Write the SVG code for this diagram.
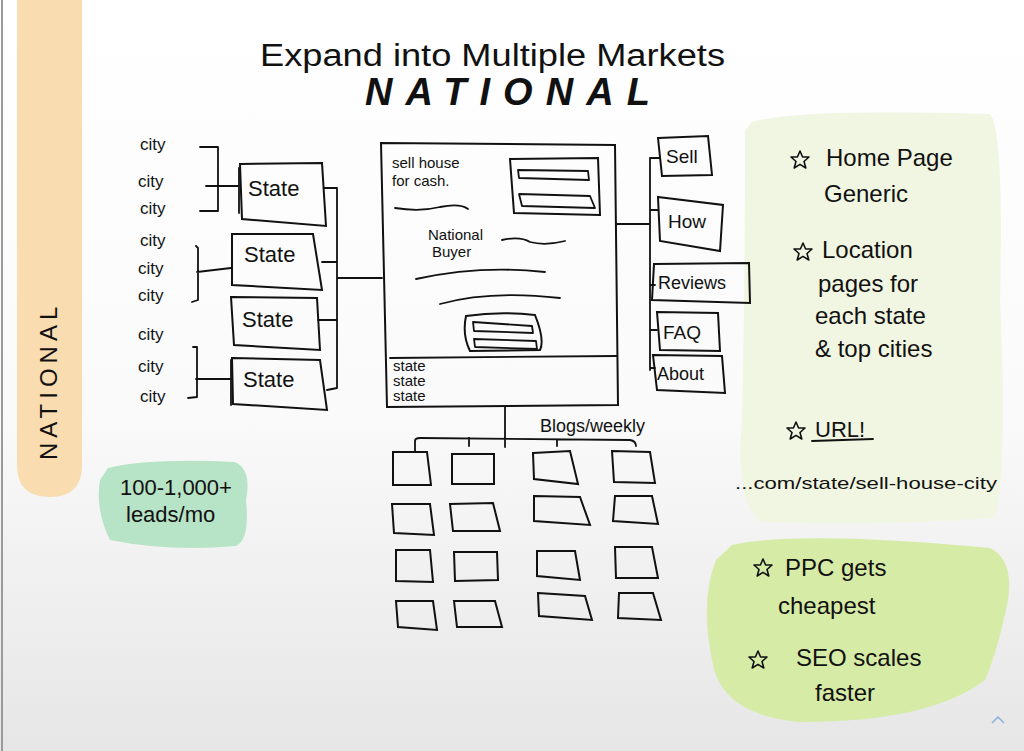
<svg xmlns="http://www.w3.org/2000/svg" width="1024" height="751" viewBox="0 0 1024 751">
<defs>
<linearGradient id="bg" x1="0" y1="0" x2="0" y2="1">
<stop offset="0" stop-color="#ffffff"/>
<stop offset="0.55" stop-color="#fafafa"/>
<stop offset="1" stop-color="#e6e6e6"/>
</linearGradient>
<polygon id="star" points="0,-9 2.6,-3 9,-3 4,1.5 5.8,8 0,4.3 -5.8,8 -4,1.5 -9,-3 -2.6,-3" fill="none" stroke="#111" stroke-width="1.6" stroke-linejoin="round"/>
</defs>
<style>
text{font-family:"Liberation Sans","DejaVu Sans",sans-serif;fill:#111}
.h{font-size:17px}
.n{font-size:22px}
.s{font-size:15px}
.note{font-size:24px}
.box{fill:none;stroke:#111;stroke-width:2}
.ln{fill:none;stroke:#111;stroke-width:1.8;stroke-linecap:round;stroke-linejoin:round}
</style>
<rect width="1024" height="751" fill="url(#bg)"/>
<line x1="2" y1="0" x2="2" y2="751" stroke="#9a9a9a" stroke-width="2"/>

<g id="national-bar">
<path d="M17,0 H82 V465 Q82,497 50,497 Q17,497 17,465 Z" fill="#f9dcb0"/>
<text transform="translate(57,460) rotate(-90)" style="font-size:24px;letter-spacing:5px">NATIONAL</text>
</g>

<g id="leads-note">
<path d="M108,468 Q150,458 235,462 Q252,470 246,500 Q250,540 236,546 Q170,552 110,540 Q95,510 100,480 Z" fill="#b7e3c6"/>
<text x="120" y="495" class="n">100-1,000+</text>
<text x="126" y="522" class="n">leads/mo</text>
</g>

<g id="notes-upper">
<path d="M752,122 Q800,108 990,114 Q1004,130 1000,300 Q1008,480 994,518 Q880,526 760,522 Q735,500 742,420 Q745,300 745,130 Z" fill="#f1f6e2"/>
<use href="#star" x="800" y="160"/>
<text x="826" y="166" class="note">Home Page</text>
<text x="824" y="202" class="note">Generic</text>
<use href="#star" x="803" y="252"/>
<text x="822" y="258" class="note">Location</text>
<text x="818" y="292" class="note">pages for</text>
<text x="815" y="324" class="note">each state</text>
<text x="815" y="357" class="note">&amp; top cities</text>
<use href="#star" x="796" y="431"/>
<text x="815" y="437" class="n">URL!</text>
<line x1="812" y1="441" x2="873" y2="439" class="ln"/>
<text x="735" y="489" class="s" style="font-size:17px" textLength="262" lengthAdjust="spacingAndGlyphs">...com/state/sell-house-city</text>
</g>

<g id="notes-lower">
<path d="M732,545 Q800,530 990,548 Q1014,560 1008,600 Q998,650 985,680 Q930,722 800,722 Q720,715 712,660 Q700,600 716,560 Z" fill="#d6eba6"/>
<use href="#star" x="763" y="568"/>
<text x="785" y="576" class="note">PPC gets</text>
<text x="778" y="614" class="note">cheapest</text>
<use href="#star" x="758" y="660"/>
<text x="796" y="666" class="note">SEO scales</text>
<text x="815" y="701" class="note">faster</text>
</g>

<g id="title">
<text x="260" y="66" style="font-size:31px" textLength="465" lengthAdjust="spacingAndGlyphs">Expand into Multiple Markets</text>
<text x="365" y="105" style="font-size:38px;font-weight:bold;font-style:italic" textLength="285" lengthAdjust="spacing">NATIONAL</text>
</g>

<g id="cities">
<text x="140" y="150" class="h">city</text>
<text x="138" y="187" class="h">city</text>
<text x="140" y="214" class="h">city</text>
<text x="140" y="246" class="h">city</text>
<text x="138" y="274" class="h">city</text>
<text x="138" y="301" class="h">city</text>
<text x="138" y="340" class="h">city</text>
<text x="138" y="372" class="h">city</text>
<text x="140" y="402" class="h">city</text>
</g>

<g id="state-1"><path d="M240,164 L322,163 L326,226 L242,219 Z" class="box"/><text x="248" y="196" class="n">State</text></g>
<g id="state-2"><path d="M232,234 L313,234 L322,290 L232,285 Z" class="box"/><text x="244" y="262" class="n">State</text></g>
<g id="state-3"><path d="M231,297 L317,298 L320,350 L234,345 Z" class="box"/><text x="242" y="327" class="n">State</text></g>
<g id="state-4"><path d="M232,358 L320,360 L327,410 L233,404 Z" class="box"/><text x="243" y="387" class="n">State</text></g>

<g id="homepage">
<path d="M381,143 L615,145 L618,405 L387,407 Z" class="box"/>
<line x1="390" y1="358" x2="617" y2="356" class="ln"/>
<text x="392" y="168" class="s">sell house</text>
<text x="392" y="186" class="s">for cash.</text>
<path d="M395,208 Q420,212 440,207 Q460,203 468,209" class="ln"/>
<path d="M510,159 L598,158 L600,215 L514,213 Z" class="box"/>
<path d="M518,170 L588,171 L589,180 L519,178 Z" class="ln"/>
<path d="M519,194 L590,196 L595,208 L522,206 Z" class="ln"/>
<text x="428" y="240" class="s">National</text>
<text x="432" y="257" class="s">Buyer</text>
<path d="M502,240 Q520,236 530,242 Q545,246 565,241" class="ln"/>
<path d="M416,279 Q480,265 545,272" class="ln"/>
<path d="M440,304 Q490,290 560,298" class="ln"/>
<path d="M466,316 Q500,311 535,315 Q545,340 540,350 L470,351 Q462,335 466,316 Z" class="box"/>
<path d="M473,322 L532,326 L533,333 L474,331 Z" class="ln"/>
<path d="M474,339 L536,341 L537,349 L475,347 Z" class="ln"/>
<text x="393" y="371" class="s">state</text>
<text x="393" y="386" class="s">state</text>
<text x="393" y="401" class="s">state</text>
</g>

<g id="nav-sell"><path d="M658,138 L708,136 L712,175 L662,176 Z" class="box"/><text x="666" y="163" class="s" style="font-size:19px">Sell</text></g>
<g id="nav-how"><path d="M658,197 L723,205 L720,251 L660,241 Z" class="box"/><text x="668" y="228" class="s" style="font-size:19px">How</text></g>
<g id="nav-reviews"><path d="M654,264 L749,263 L750,303 L652,300 Z" class="box"/><text x="658" y="289" class="s" style="font-size:18px">Reviews</text></g>
<g id="nav-faq"><path d="M657,312 L718,313 L720,351 L660,350 Z" class="box"/><text x="663" y="339" class="s" style="font-size:19px">FAQ</text></g>
<g id="nav-about"><path d="M653,355 L722,356 L725,393 L657,390 Z" class="box"/><text x="657" y="380" class="s" style="font-size:18px">About</text></g>

<g id="blog-label"><text x="540" y="432" class="s" style="font-size:18px">Blogs/weekly</text></g>

<g id="blogs">
<path d="M393,452 L427,452 L431,485 L393,485 Z" class="box"/>
<path d="M452,454 L494,454 L494,484 L452,484 Z" class="box"/>
<path d="M533,453 L570,451 L578,484 L534,479 Z" class="box"/>
<path d="M612,451 L650,452 L655,483 L614,482 Z" class="box"/>
<path d="M392,504 L430,504 L434,535 L394,533 Z" class="box"/>
<path d="M450,504 L493,503 L500,531 L453,531 Z" class="box"/>
<path d="M534,496 L580,497 L590,525 L534,521 Z" class="box"/>
<path d="M615,496 L652,496 L658,524 L613,521 Z" class="box"/>
<path d="M396,550 L430,550 L433,582 L396,581 Z" class="box"/>
<path d="M454,552 L497,552 L498,580 L455,581 Z" class="box"/>
<path d="M537,551 L575,551 L580,580 L537,576 Z" class="box"/>
<path d="M615,547 L652,547 L658,578 L616,578 Z" class="box"/>
<path d="M396,601 L433,601 L437,630 L398,627 Z" class="box"/>
<path d="M454,601 L495,601 L502,627 L457,627 Z" class="box"/>
<path d="M538,593 L585,596 L592,620 L539,616 Z" class="box"/>
<path d="M619,593 L653,593 L661,620 L618,618 Z" class="box"/>
</g>

<g id="connectors" class="ln">
<path d="M200,147 H218 V211 H200 M206,186 H238 M239,168 V213" class="ln"/>
<path d="M196,246 L198,248 V300 L192,302 M197,272 L231,268" class="ln"/>
<path d="M193,347 H197 V397 L188,398 M196,379 H230 M231,360 V405" class="ln"/>
<path d="M324,188 H337 V388 L327,390 M322,262 H337 M318,320 H337 M337,278 H382" class="ln"/>
<path d="M616,224 H650 M660,158 H650 V370 M650,210 H658 M650,285 H655 M650,330 H657 M650,368 H655" class="ln"/>
<path d="M505,407 V447 M415,451 V441 Q415,438 420,438 L630,440 Q636,441 636,446 M469,438 V446 M557,440 V446" class="ln"/>
</g>

<g id="scroll-chevron"><path d="M992,723 L998,717 L1004,723" fill="none" stroke="#8ab0e0" stroke-width="1.5"/></g>
</svg>
